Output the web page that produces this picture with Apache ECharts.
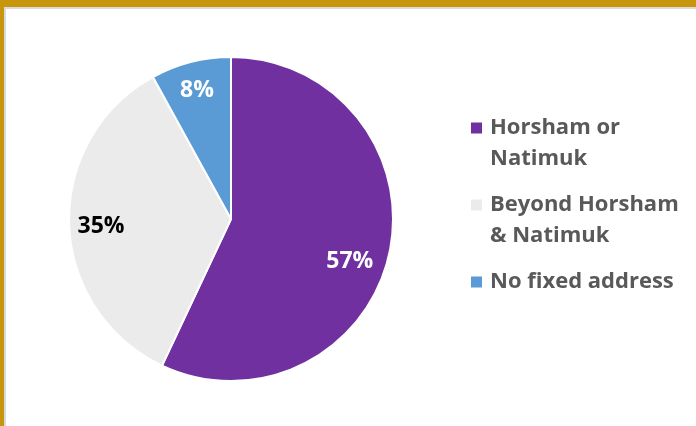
<!DOCTYPE html>
<html>
<head>
<meta charset="utf-8">
<script src="https://cdn.jsdelivr.net/npm/echarts@6/dist/echarts.min.js"></script>
<style>
html,body{margin:0;padding:0;background:#fff;}
#main{width:696px;height:426px;}
</style>
</head>
<body>
<div id="main"></div>
<script>
var categories = ['Horsham or Natimuk', 'Beyond Horsham & Natimuk', 'No fixed address'];
var values = [57, 35, 8];
var legendLines = [['Horsham or', 'Natimuk'], ['Beyond Horsham', '& Natimuk'], ['No fixed address']];
var colors = ['#7030A0', '#EBEBEB', '#5B9BD5'];
var labelColors = ['#FFFFFF', '#000000', '#FFFFFF'];
var labelOffsets = [[-11, 13], [3, 3], [-1, 0]];

var chart = echarts.init(document.getElementById('main'), null, {renderer: 'canvas'});

var mainData = categories.map(function (c, i) {
  return {name: c, value: values[i], itemStyle: {color: colors[i]}};
});
var labelData = categories.map(function (c, i) {
  return {
    name: c, value: values[i],
    label: {color: labelColors[i], offset: labelOffsets[i]}
  };
});

var option = {
  animation: false,
  backgroundColor: '#FFFFFF',
  graphic: [
    {type: 'rect', shape: {x: 0, y: 0, width: 696, height: 7}, style: {fill: '#C8960C'}, z: 10},
    {type: 'rect', shape: {x: 4, y: 7, width: 692, height: 2}, style: {fill: '#DADADA'}, z: 10},
    {type: 'rect', shape: {x: 0, y: 0, width: 4, height: 426}, style: {fill: '#C8960C'}, z: 10},
    {type: 'rect', shape: {x: 4, y: 7, width: 2, height: 419}, style: {fill: '#DADADA'}, z: 10}
  ],
  legend: {
    orient: 'vertical',
    left: 471,
    top: 92,
    padding: 0,
    itemWidth: 11,
    itemHeight: 11,
    itemGap: -1,
    icon: 'rect',
    selectedMode: false,
    itemStyle: {borderWidth: 0},
    formatter: function (name) {
      var lines = legendLines[categories.indexOf(name)];
      var out = ['{e| }'];
      lines.forEach(function (l) { out.push('{t|' + l + '}'); });
      if (lines.length === 1) out.push('{e| }');
      return out.join('\n');
    },
    textStyle: {
      color: '#595959',
      rich: {
        e: {fontSize: 10, lineHeight: 31},
        t: {
          fontFamily: 'Open Sans',
          fontWeight: 'bold',
          fontSize: 22,
          lineHeight: 31,
          color: '#595959',
          padding: [0, 0, 0, 3]
        }
      }
    },
    data: categories
  },
  series: [
    {
      type: 'pie',
      center: [231, 219],
      radius: [0, 162],
      startAngle: 90,
      clockwise: true,
      silent: true,
      label: {show: false},
      labelLine: {show: false},
      itemStyle: {borderColor: '#FFFFFF', borderWidth: 2},
      data: mainData
    },
    {
      type: 'pie',
      center: [231, 219],
      radius: [98, 162],
      startAngle: 90,
      clockwise: true,
      silent: true,
      itemStyle: {color: 'rgba(0,0,0,0)', borderWidth: 0},
      label: {
        show: true,
        position: 'inside',
        formatter: '{c}%',
        fontFamily: 'Open Sans',
        fontWeight: 'bold',
        fontSize: 23
      },
      labelLine: {show: false},
      data: labelData
    }
  ]
};
chart.setOption(option);
</script>
</body>
</html>
